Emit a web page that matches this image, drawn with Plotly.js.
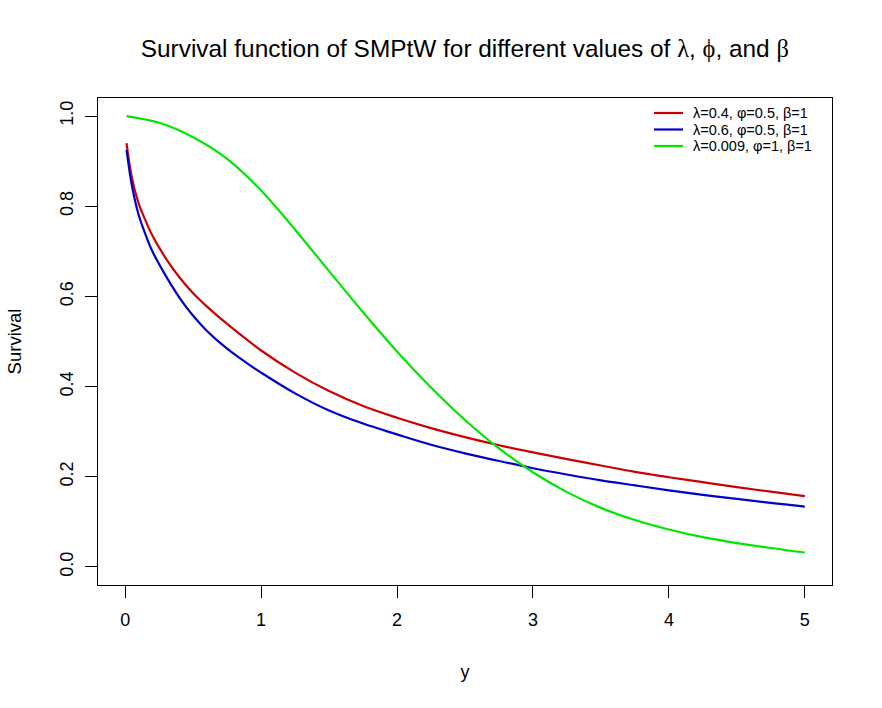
<!DOCTYPE html>
<html>
<head>
<meta charset="utf-8">
<script src="https://cdn.plot.ly/plotly-3.0.1.min.js"></script>
<style>
  html, body { margin: 0; padding: 0; background: #ffffff; }
  #chart { width: 882px; height: 708px; }
</style>
</head>
<body>
<div id="chart"></div>
<script>
// Survival curves S(y) of the SMPtW distribution for three parameter sets
const yGrid = [0.01, 0.05, 0.1, 0.15, 0.2, 0.3, 0.4, 0.5, 0.6, 0.75, 0.9, 1.0,
               1.25, 1.5, 1.75, 2.0, 2.25, 2.5, 2.75, 3.0, 3.25, 3.5, 3.75,
               4.0, 4.25, 4.5, 4.75, 5.0];

// lambda = 0.4, phi = 0.5, beta = 1
const survA = [0.94, 0.862, 0.805, 0.768, 0.735, 0.684, 0.642, 0.607, 0.578, 0.539, 0.503, 0.48,
               0.431, 0.39, 0.357, 0.331, 0.308, 0.288, 0.27, 0.254, 0.239, 0.225, 0.211,
               0.199, 0.188, 0.177, 0.167, 0.157];

// lambda = 0.6, phi = 0.5, beta = 1
const survB = [0.925, 0.845, 0.78, 0.737, 0.70, 0.645, 0.597, 0.557, 0.524, 0.484, 0.451, 0.431,
               0.385, 0.347, 0.318, 0.294, 0.271, 0.252, 0.235, 0.219, 0.205, 0.192, 0.181,
               0.170, 0.160, 0.151, 0.142, 0.134];

// lambda = 0.009, phi = 1, beta = 1
const yGridC = [0.01, 0.25, 0.5, 0.75, 1.0, 1.25, 1.5, 1.75, 2.0, 2.25, 2.5, 2.75,
                3.0, 3.25, 3.5, 3.75, 4.0, 4.25, 4.5, 4.75, 5.0];
const survC = [1.0, 0.985, 0.953, 0.905, 0.835, 0.748, 0.656, 0.565, 0.478, 0.398, 0.326, 0.263,
               0.210, 0.166, 0.131, 0.104, 0.083, 0.066, 0.053, 0.042, 0.032];

const seriesNames = ["λ=0.4, φ=0.5, β=1", "λ=0.6, φ=0.5, β=1", "λ=0.009, φ=1, β=1"];
const seriesColors = ["#CD0000", "#0000CD", "#00E600"];

const xTicks = [0, 1, 2, 3, 4, 5];
const yTicks = [0.0, 0.2, 0.4, 0.6, 0.8, 1.0];

const FONT = "Liberation Sans, Arial, sans-serif";
const GREEK = "Liberation Serif, Times New Roman, serif";

const xs = [yGrid, yGrid, yGridC];
const ys = [survA, survB, survC];

const traces = ys.map((vals, i) => ({
  x: xs[i],
  y: vals,
  type: "scatter",
  mode: "lines",
  name: seriesNames[i],
  line: { color: seriesColors[i], width: 2.2, shape: "spline", smoothing: 1 },
  hoverinfo: "x+y"
}));

// Compact key in the top-right corner of the panel (no frame)
const M = { l: 98, r: 50, t: 98, b: 123 };
const plotW = 882 - M.l - M.r, plotH = 708 - M.t - M.b;
const px = v => (v - M.l) / plotW;          // page x -> paper x
const py = v => (708 - M.b - v) / plotH;    // page y -> paper y
const keyRow0 = 113, keyStep = 16.5;

const keyShapes = seriesNames.map((_, i) => ({
  type: "line", xref: "paper", yref: "paper",
  x0: px(654), x1: px(683),
  y0: py(keyRow0 + i * keyStep), y1: py(keyRow0 + i * keyStep),
  line: { color: seriesColors[i], width: 2.2 }
}));
const keyLabels = seriesNames.map((name, i) => ({
  xref: "paper", yref: "paper",
  x: px(692), y: py(keyRow0 + i * keyStep),
  xanchor: "left", yanchor: "middle",
  text: name, showarrow: false, borderpad: 0,
  font: { family: FONT, size: 14.5, color: "#000000" }
}));

const g = s => `<span style="font-family:${GREEK}">${s}</span>`;

const layout = {
  width: 882,
  height: 708,
  paper_bgcolor: "#ffffff",
  plot_bgcolor: "#ffffff",
  font: { family: FONT, size: 18, color: "#000000" },
  margin: { l: M.l, r: M.r, t: M.t, b: M.b, pad: 0 },
  title: {
    text: `Survival function of SMPtW for different values of ${g("λ")}, ${g("ϕ")}, and ${g("β")}`,
    font: { family: FONT, size: 24.4, color: "#000000" },
    x: 0.527, xanchor: "center",
    y: 0.932, yanchor: "middle"
  },
  xaxis: {
    range: [-0.2, 5.2],
    tickvals: xTicks,
    ticktext: xTicks.map(String),
    ticks: "outside",
    ticklen: 12,
    tickwidth: 1,
    tickcolor: "#000000",
    showline: true,
    linecolor: "#000000",
    linewidth: 1,
    mirror: true,
    showgrid: false,
    zeroline: false,
    ticklabelstandoff: 6,
    tickfont: { family: FONT, size: 18 },
    title: { text: "y", font: { family: FONT, size: 18 }, standoff: 36 }
  },
  yaxis: {
    range: [-0.04, 1.04],
    tickvals: yTicks,
    ticktext: yTicks.map(v => v.toFixed(1)),
    tickangle: -90,
    ticks: "outside",
    ticklen: 12,
    tickwidth: 1,
    tickcolor: "#000000",
    showline: true,
    linecolor: "#000000",
    linewidth: 1,
    mirror: true,
    showgrid: false,
    zeroline: false,
    ticklabelstandoff: 5,
    tickfont: { family: FONT, size: 18 },
    title: { text: "Survival", font: { family: FONT, size: 18.5 }, standoff: 30 }
  },
  shapes: keyShapes,
  annotations: keyLabels,
  showlegend: false
};

Plotly.newPlot("chart", traces, layout, { displayModeBar: false, staticPlot: true });
</script>
</body>
</html>
